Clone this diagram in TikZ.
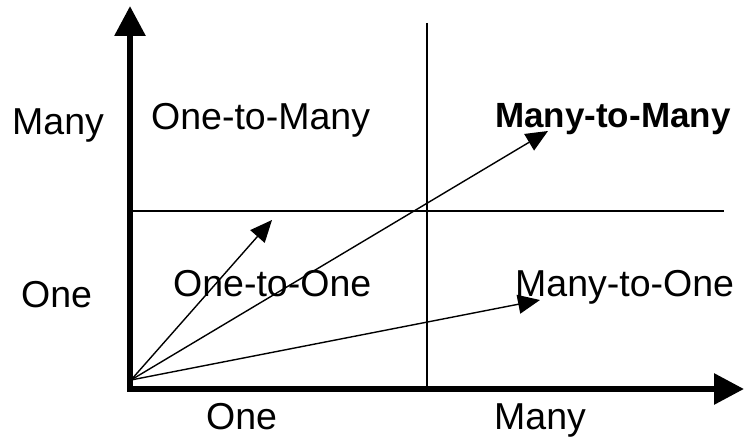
\documentclass[tikz,border=0pt]{standalone}
\usepackage{fontspec}
\setmainfont{Liberation Sans}
\usetikzlibrary{arrows.meta}
\begin{document}
\begin{tikzpicture}[x=1pt,y=-1pt,
  lbl/.style={anchor=base west,inner sep=0pt,font=\fontsize{37.5}{40}\selectfont},
  bold lbl/.style={lbl,font=\fontsize{35}{40}\selectfont\bfseries},
  axis/.style={line width=6pt,-{Triangle[length=30pt,width=30pt]}},
  grid line/.style={line width=1.6pt},
  rel/.style={line width=1.4pt,-{Triangle[length=22pt,width=19pt]}}]
\useasboundingbox (0,0) rectangle (744,438);
% axes
\coordinate (yb) at (130,389);
\coordinate (yt) at (130,6);
\coordinate (xl) at (127,389);
\coordinate (xr) at (744,389);
\draw[axis] (yb) -- (yt);
\draw[axis] (xl) -- (xr);
% dividing lines
\coordinate (hl) at (130,211);
\coordinate (hr) at (724,211);
\coordinate (vt) at (427,23);
\coordinate (vb) at (427,389);
\draw[grid line] (hl) -- (hr);
\draw[grid line] (vt) -- (vb);
% labels
\node[lbl] (lmany) at (12,135) {Many};
\node[lbl] (lone) at (21,307) {One};
\node[lbl] (bone) at (206,429) {One};
\node[lbl] (bmany) at (494,429) {Many};
\node[lbl] (otm) at (151,130) {One-to-Many};
\node[bold lbl] (mtm) at (495,128) {Many-to-Many};
\node[lbl] (oto) at (173,296) {One-to-One};
\node[lbl] (mto) at (515,296) {Many-to-One};
% relation arrows
\coordinate (O) at (131,380);
\coordinate (t1) at (272,220);
\coordinate (t2) at (548,131);
\coordinate (t3) at (540,300);
\draw[rel] (O) -- (t1);
\draw[rel] (O) -- (t2);
\draw[rel] (O) -- (t3);
\end{tikzpicture}
\end{document}
